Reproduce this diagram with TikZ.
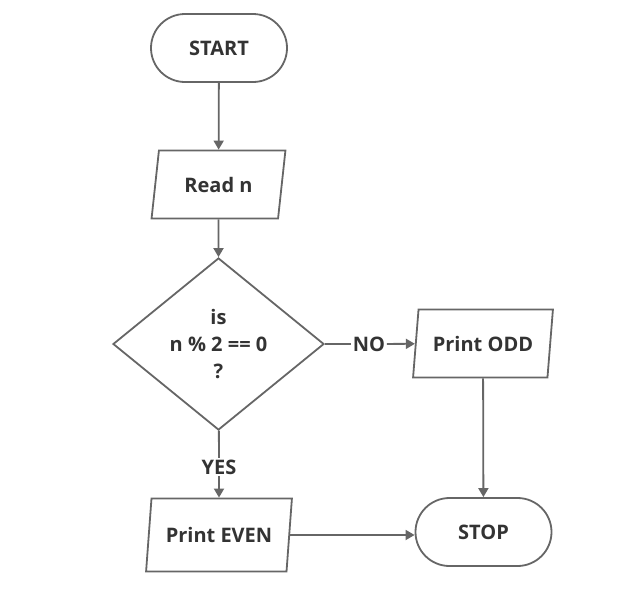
\documentclass[tikz,border=0pt]{standalone}
\usepackage{fontspec}
\setmainfont{Open Sans}
\usetikzlibrary{shapes.geometric,arrows.meta}
\definecolor{linegray}{HTML}{666666}
\definecolor{textgray}{HTML}{333333}
\begin{document}
\begin{tikzpicture}
  [x=1pt, y=-1pt, line width=1.8pt,
   every node/.style={text=textgray, font=\fontsize{20}{27}\selectfont\bfseries, inner sep=1pt},
   terminal/.style={draw=linegray, rectangle, rounded corners=34pt, minimum width=136pt, minimum height=68pt},
   io/.style={draw=linegray, trapezium, trapezium left angle=76, trapezium right angle=104,
              trapezium stretches=true, minimum height=68pt},
   decision/.style={draw=linegray, diamond, align=center, minimum width=211pt, minimum height=172pt, inner sep=0pt},
   flow/.style={draw=linegray, -{Triangle[length=9pt,width=10pt]}}]
  \useasboundingbox (0,0) rectangle (622,606);
  \node [terminal] (start) at (219,48) {START};
  \node [io, minimum width=135pt] (read) at (218.5,184.5) {Read n};
  \node [decision] (cond) at (218.5,344) {is\\n \% 2 == 0\\?};
  \node [io, minimum width=140pt] (odd) at (483,343.5) {Print ODD};
  \node [io, minimum width=146pt, minimum height=73pt] (even) at (219,535) {Print EVEN};
  \node [terminal] (stop) at (483.5,532) {STOP};
  \node (no) at (369,344) {NO};
  \node (yes) at (219,467) {YES};
  % connectors
  \draw [flow] (start) -- (read);
  \draw [flow] (read) -- (cond);
  \draw [draw=linegray] (cond) -- (no);
  \draw [flow] (no) -- (odd);
  \draw [draw=linegray] (cond) -- (yes);
  \draw [flow] (yes) -- (even);
  \draw [flow] (odd) -- (stop);
  \draw [flow] (even) -- (even -| stop.west);
\end{tikzpicture}
\end{document}
